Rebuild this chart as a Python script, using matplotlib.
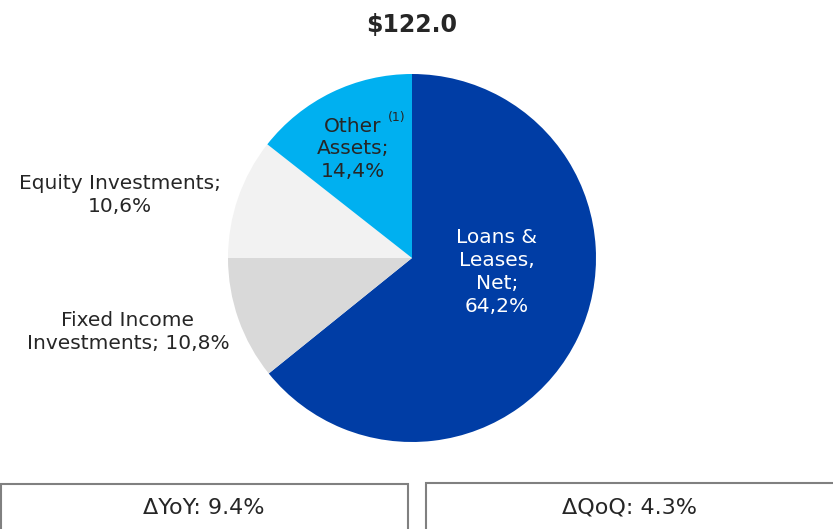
import matplotlib
matplotlib.use("Agg")
import matplotlib.pyplot as plt
from matplotlib.patches import Rectangle

plt.rcParams['font.family'] = ['DejaVu Sans']

# data
labels = ["Loans &\nLeases,\nNet;\n64,2%", "Fixed Income\nInvestments; 10,8%",
          "Equity Investments;\n10,6%", "Other\nAssets;\n14,4%"]
shares = [64.2, 10.8, 10.6, 14.4]
colors = ["#003DA5", "#D9D9D9", "#F2F2F2", "#00B0F0"]
total = "$122.0"
yoy = "\u0394YoY: 9.4%"
qoq = "\u0394QoQ: 4.3%"

W, H = 833, 529
fig = plt.figure(figsize=(W / 100, H / 100), dpi=100)
ax = fig.add_axes([0, 0, 1, 1])

# pie, centre at (412, 258) in image pixels
cx, cy, r = 412, H - 258, 184
ax.pie(shares, colors=colors, startangle=90, counterclock=False,
       center=(cx, cy), radius=r, frame=True,
       wedgeprops=dict(linewidth=0))
ax.set_xlim(0, W)
ax.set_ylim(0, H)
ax.axis("off")

txt = "#262626"
fs = 14.5
ls = 1.25
ax.text(497, H - 272, labels[0], ha="center", va="center", color="white",
        fontsize=fs, linespacing=ls)
ax.text(128, H - 332, labels[1], ha="center", va="center", color=txt,
        fontsize=fs, linespacing=ls)
ax.text(120, H - 195, labels[2], ha="center", va="center", color=txt,
        fontsize=fs, linespacing=ls)
ax.text(353, H - 149, labels[3], ha="center", va="center", color=txt,
        fontsize=fs, linespacing=ls)
ax.text(397, H - 117, "(1)", ha="center", va="center", color=txt, fontsize=9)

ax.text(412, H - 25, total, ha="center", va="center", color=txt,
        fontsize=17, fontweight="bold")

# change boxes at the bottom
ax.add_patch(Rectangle((0.5, -20), 408, H - 484 + 20, fill=False,
                       edgecolor="#808080", linewidth=1.5, clip_on=False))
ax.add_patch(Rectangle((426, -20), 420, H - 483 + 20, fill=False,
                       edgecolor="#808080", linewidth=1.5, clip_on=False))
ax.text(204, H - 508, yoy, ha="center", va="center", color=txt, fontsize=16)
ax.text(630, H - 508, qoq, ha="center", va="center", color=txt, fontsize=16)

fig.savefig("out.png", dpi=100)
